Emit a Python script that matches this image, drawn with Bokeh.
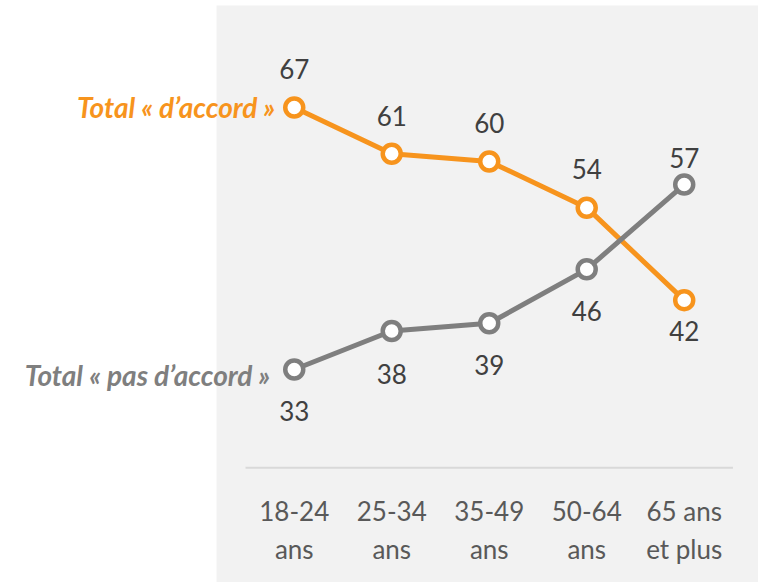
from bokeh.plotting import figure
from bokeh.models import Range1d, BoxAnnotation
from bokeh.core.properties import value
from bokeh.embed import file_html
from bokeh.resources import INLINE

categories = ["18-24\nans", "25-34\nans", "35-49\nans", "50-64\nans", "65 ans\net plus"]
accord = [67, 61, 60, 54, 42]
pas_accord = [33, 38, 39, 46, 57]
series_names = ["Total « d’accord »", "Total « pas d’accord »"]
axis_min = 20

# label offsets in pixels (style): positive = above the point
ACCORD_LABEL_DY = [38, 38, 38, 39, -31]
PAS_LABEL_DY = [-41, -43, -42, -42, 27]

ORANGE = "#F7941D"
GREY = "#7F7F7F"
FONT = "Lato"

W, H = 758, 582
PX = 7.706  # pixels per unit
x = list(range(len(categories)))
Y_TOP = 80.885

p = figure(width=W, height=H, output_backend="svg", toolbar_location=None,
           x_range=Range1d(-3.013, 4.762), y_range=Range1d(5.36, Y_TOP),
           min_border=0, min_border_left=0, min_border_right=0,
           min_border_top=0, min_border_bottom=0)
p.axis.visible = False
p.grid.visible = False
p.outline_line_color = None
p.background_fill_color = "white"
p.border_fill_color = "white"

p.add_layout(BoxAnnotation(left=-0.797, top=Y_TOP - 5 / PX, fill_color="#F2F2F2",
                           fill_alpha=1, line_color=None, level="underlay"))

# baseline (category axis line)
p.segment(x0=[-0.5], y0=[axis_min + 0.25], x1=[len(categories) - 0.5], y1=[axis_min + 0.25],
          line_color="#D9D9D9", line_width=2)

# category labels
top_lines = [c.split("\n")[0] for c in categories]
bot_lines = [c.split("\n")[1] for c in categories]
p.text(x=x, y=[axis_min - 41 / PX] * len(x), text=top_lines, text_align="center",
       text_baseline="middle", text_font=value(FONT), text_font_size="26px",
       text_color="#595959")
p.text(x=x, y=[axis_min - 79 / PX] * len(x), text=bot_lines, text_align="center",
       text_baseline="middle", text_font=value(FONT), text_font_size="26px",
       text_color="#595959")

def series(vals, dys, color, name, name_dy, name_dx):
    p.line(x, vals, line_color=color, line_width=5)
    p.scatter(x, vals, size=18, fill_color="white", line_color=color, line_width=4.5)
    ly = [v + d / PX for v, d in zip(vals, dys)]
    p.text(x=x, y=ly, text=[str(v) for v in vals], text_align="center",
           text_baseline="middle", text_font=value(FONT), text_font_size="26px",
           text_color="#404040")
    p.text(x=[0], y=[vals[0] + name_dy / PX], text=[name], text_align="right",
           text_baseline="middle", x_offset=name_dx, text_font=value(FONT),
           text_font_size="28px", text_font_style="bold italic", text_color=color)

series(accord, ACCORD_LABEL_DY, ORANGE, series_names[0], 0, -19)
series(pas_accord, PAS_LABEL_DY, GREY, series_names[1], -5, -24)

open("out.html", "w").write(file_html(p, INLINE))
